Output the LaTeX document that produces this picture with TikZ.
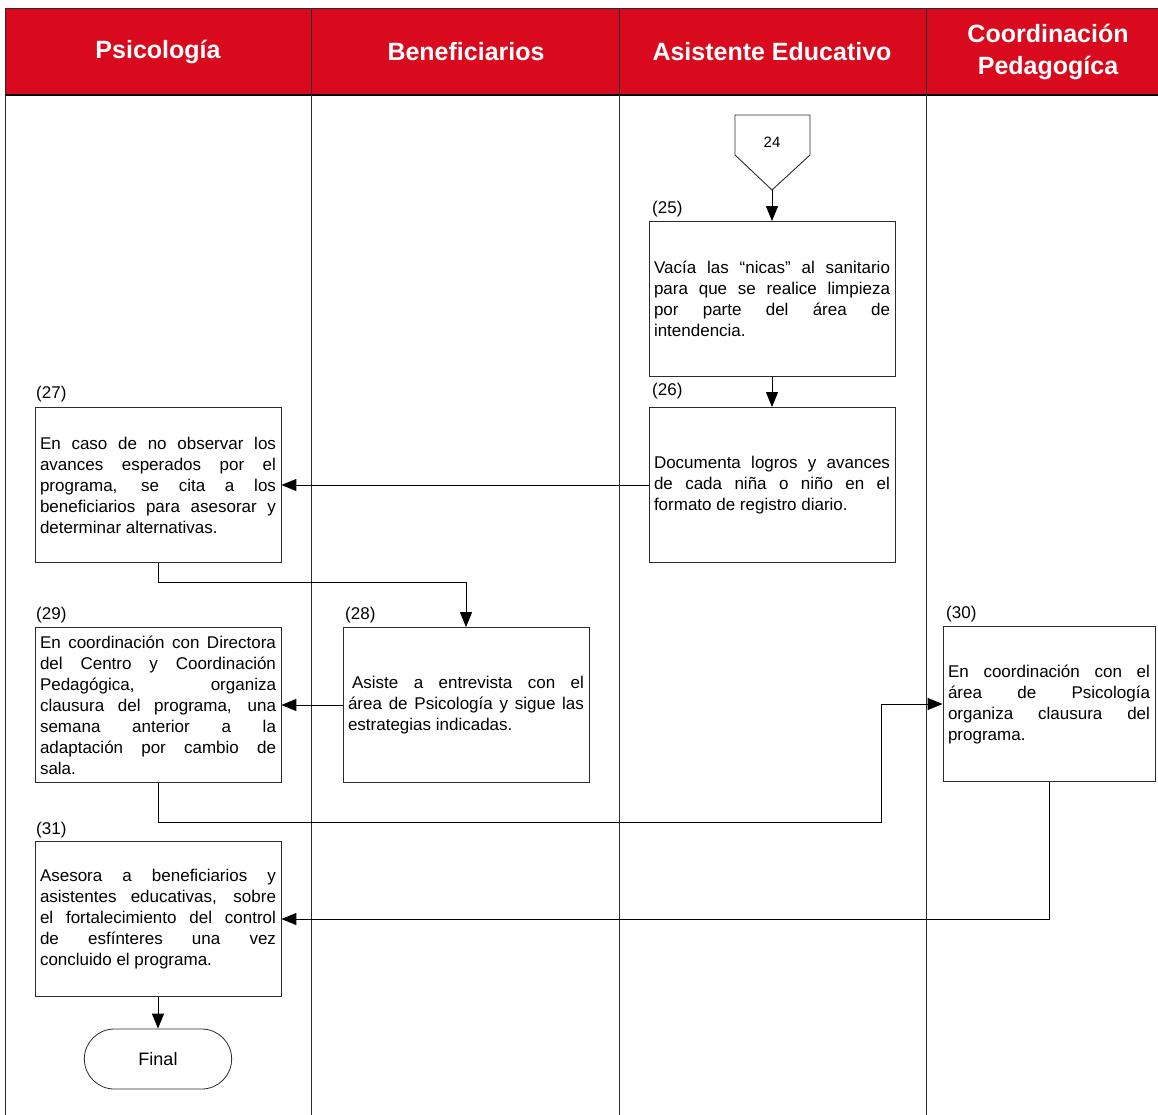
\documentclass[tikz,border=0pt]{standalone}
\usepackage{fontspec}
\setmainfont{Liberation Sans}
\usepackage{tikz}
\usetikzlibrary{shapes.misc, arrows.meta, calc}
\definecolor{headred}{HTML}{DA0A1E}
\definecolor{linedark}{HTML}{2B2B2B}

\begin{document}
\hyphenpenalty=10000
\exhyphenpenalty=10000
\begin{tikzpicture}[
    x=1pt, y=-1pt,
    box/.style={
        draw=linedark,
        line width=0.8pt,
        text width=236pt,
        inner xsep=5pt,
        minimum height=155pt,
        align=none,
        execute at begin node={\leftskip=0pt\relax\rightskip=0pt\relax\parfillskip=0pt plus 1fil\relax},
        font=\fontsize{17}{21}\selectfont
    },
    num/.style={
        font=\fontsize{17}{21}\selectfont,
        inner sep=0pt,
        anchor=west
    },
    header/.style={
        font=\fontsize{25}{32}\selectfont\bfseries,
        text=white,
        align=center
    },
    arr/.style={
        -{Triangle[length=15pt, width=12pt]},
        line width=1pt,
        draw=black
    }
]
\useasboundingbox (0,0) rectangle (1158,1115);

% Lanes
\fill[headred] (5,8) rectangle (1158,95);
\draw[linedark, line width=0.8pt] (5,8) -- (1158,8);
\draw[black, line width=2pt] (5,95) -- (1158,95);
\foreach \lx in {5, 311, 619, 926}
    \draw[linedark, line width=0.9pt] (\lx,8) -- (\lx,1115);

\node[header] (hpsi) at (158,52) {Psicología};
\node[header] (hben) at (466,52) {Beneficiarios};
\node[header] (hasi) at (772,52) {Asistente Educativo};
\node[header] (hcoo) at (1048,52) {Coordinación\\Pedagogíca};

% Connector 24
\draw[linedark, line width=0.9pt] (735,115) -- (810,115) -- (810,155) -- (772,190) -- (735,155) -- cycle;
\node[font=\fontsize{15}{16}\selectfont] (c24) at (772,142) {24};
\coordinate (c24tip) at (772,190);

% Asistente Educativo
\node[num] (n25) at (652,209) {(25)};
\node[box] (b25) at (772,299) {Vacía las “nicas” al sanitario\linebreak para que se realice limpieza\linebreak por parte del área de\linebreak intendencia.};

\node[num] (n26) at (652,391) {(26)};
\node[box] (b26) at (772,485) {Documenta logros y avances\linebreak de cada niña o niño en el\linebreak formato de registro diario.};

% Psicologia
\node[num] (n27) at (36,394) {(27)};
\node[box] (b27) at (158,485) {En caso de no observar los\linebreak avances esperados por el\linebreak programa, se cita a los\linebreak beneficiarios para asesorar y\linebreak determinar alternativas.};

\node[num] (n29) at (36,615) {(29)};
\node[box] (b29) at (158,705) {En coordinación con Directora\linebreak del Centro y Coordinación\linebreak Pedagógica, organiza\linebreak clausura del programa, una\linebreak semana anterior a la\linebreak adaptación por cambio de\linebreak sala.};

\node[num] (n31) at (36,830) {(31)};
\node[box] (b31) at (158,919) {Asesora a beneficiarios y\linebreak asistentes educativas, sobre\linebreak el fortalecimiento del control\linebreak de esfínteres una vez\linebreak concluido el programa.};

\node[draw=linedark, line width=0.8pt, rounded rectangle, minimum width=154pt, minimum height=60pt, font=\fontsize{18}{21}\selectfont] (final) at (158,1059) {Final};

% Beneficiarios
\node[num] (n28) at (345,615) {(28)};
\node[box] (b28) at (466,705) {\hspace{4pt}Asiste a entrevista con el\linebreak área de Psicología y sigue las\linebreak estrategias indicadas.};

% Coordinacion Pedagogica
\node[num] (n30) at (946,614) {(30)};
\node[box, text width=202pt] (b30) at (1049,704) {En coordinación con el\linebreak área de Psicología\linebreak organiza clausura del\linebreak programa.};

% Arrows
\draw[arr] (c24tip) -- (b25.north);
\draw[arr] (b25.south) -- (b26.north);
\draw[arr] (b26.west) -- (b27.east);
\draw[arr] (b27.south) -- ++(0,20) -| (b28.north);
\draw[arr] (b28.west) -- (b29.east);
\draw[arr] (b29.south) -- ++(0,40) -| ([xshift=-61pt]b30.west) -- (b30.west);
\draw[arr] (b30.south) |- (b31.east);
\draw[arr] (b31.south) -- (final.north);

\end{tikzpicture}
\end{document}
